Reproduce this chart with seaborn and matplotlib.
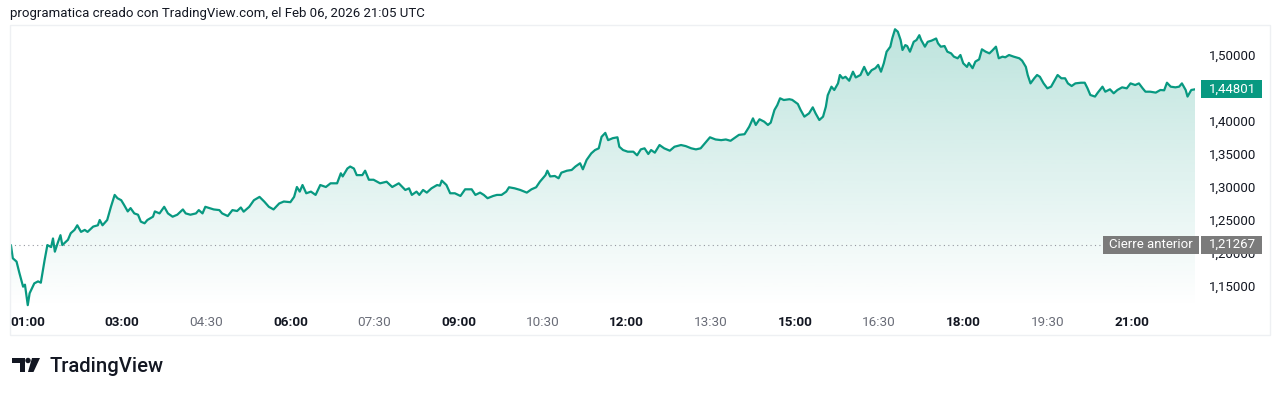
import numpy as np
import matplotlib.pyplot as plt
import matplotlib.patches as mpatches
import matplotlib.transforms as mtransforms
from matplotlib.colors import to_rgb
import seaborn as sns

# minutes since 00:00 (chart time) and price
minutes = [
    61, 63, 67, 70, 74, 76, 79, 81, 86, 90, 93, 97, 100, 104, 106, 108, 111, 114, 116, 122,
    125, 129, 132, 136, 140, 143, 149, 154, 156, 159, 164, 168, 172, 175, 179, 182, 186, 189, 193, 197,
    200, 204, 207, 213, 215, 220, 225, 229, 234, 239, 245, 248, 253, 259, 262, 266, 269,
    278, 284, 287, 293, 298, 303, 307, 310, 316, 321, 327, 332, 337, 342, 348, 353, 360, 364, 367, 370,
    373, 377, 382, 387, 392, 398, 403, 410, 414, 416, 421, 424, 428, 431, 437, 440, 444, 449, 456, 463,
    469, 476,
    483, 487, 490, 495, 498, 502, 506, 511, 517, 520, 522, 527, 531, 536, 542, 547, 554, 558, 563, 567,
    571, 577, 581, 586, 591, 594, 600, 606, 613, 618, 623, 627, 633, 635, 638, 643, 647, 650, 656, 661,
    665, 670, 673, 677, 682, 686, 690, 693, 697, 700,
    705, 710, 712, 716, 721, 727, 731, 735, 739, 743, 746, 750, 755, 760, 766, 771, 778, 783, 789, 794,
    799, 805, 809, 815, 821, 826, 831, 835, 840, 846, 851, 855, 858, 862, 867, 871, 874, 878, 881, 884,
    888, 894, 897, 903, 906, 910,
    915, 919, 922, 926, 930, 933, 935, 939, 942, 946, 948, 951, 954, 958, 962, 965, 970, 974, 978, 982,
    986, 989, 992, 995, 998, 1002, 1004, 1007, 1010, 1013, 1015, 1018, 1020, 1023, 1027, 1030, 1033,
    1035, 1039, 1042, 1046, 1051, 1053, 1056, 1060, 1063, 1067, 1070, 1074, 1077, 1080, 1084, 1086,
    1090, 1093, 1097, 1100, 1104, 1108, 1111, 1115, 1118, 1122, 1125, 1129,
    1134, 1140, 1143, 1147, 1149, 1152, 1156, 1159, 1162, 1166, 1170, 1174, 1177, 1181, 1185, 1189,
    1192, 1196, 1200, 1206, 1210, 1213, 1216, 1221, 1224, 1229, 1232, 1237, 1241, 1245, 1250, 1255,
    1259, 1264, 1268, 1272, 1275, 1280, 1286, 1291, 1295, 1298, 1302, 1307, 1311, 1314, 1318, 1320,
    1324, 1328,
]
price = [
    1.212, 1.192, 1.187, 1.170, 1.149, 1.152, 1.121, 1.139, 1.154, 1.157, 1.155, 1.189, 1.212, 1.209,
    1.222, 1.202, 1.215, 1.227, 1.212, 1.220,
    1.230, 1.235, 1.242, 1.232, 1.235, 1.232, 1.240, 1.242, 1.250, 1.242, 1.250, 1.270, 1.288, 1.283,
    1.280, 1.273, 1.263, 1.268, 1.260, 1.258,
    1.2475, 1.245, 1.250, 1.255, 1.263, 1.260, 1.270, 1.260, 1.255, 1.258, 1.266, 1.260, 1.258, 1.260,
    1.265, 1.260, 1.270,
    1.266, 1.265, 1.260, 1.256, 1.265, 1.2636, 1.269, 1.2626, 1.270, 1.280,
    1.285, 1.278, 1.270, 1.266, 1.275, 1.278, 1.277, 1.285, 1.300, 1.293,
    1.303, 1.2905, 1.293, 1.288, 1.303, 1.300, 1.3056, 1.3056, 1.3208, 1.316,
    1.328, 1.331, 1.328, 1.318, 1.318, 1.3247, 1.311, 1.311, 1.3056, 1.308,
    1.300, 1.3056,
    1.2955, 1.298, 1.288, 1.293, 1.288, 1.2955, 1.2915, 1.298, 1.303, 1.302,
    1.3097, 1.303, 1.2905, 1.2905, 1.2864, 1.2965, 1.2965, 1.288, 1.2915, 1.288,
    1.283, 1.2864, 1.288, 1.288, 1.293, 1.2996, 1.298, 1.2955, 1.2915, 1.2965,
    1.2996, 1.308, 1.318, 1.3247, 1.316, 1.3167, 1.3132, 1.3217, 1.3247, 1.3258,
    1.331, 1.336, 1.3268, 1.341, 1.351, 1.356, 1.3586, 1.376, 1.382, 1.371,
    1.374, 1.3753, 1.361, 1.356, 1.3535, 1.3535, 1.348, 1.357, 1.3586, 1.350,
    1.356, 1.352, 1.3636, 1.3586, 1.355, 1.361, 1.3636, 1.362, 1.3586, 1.357,
    1.3586, 1.3687, 1.3753, 1.372, 1.371, 1.372, 1.370, 1.374, 1.379, 1.380,
    1.3914, 1.404, 1.394, 1.4026, 1.399, 1.394, 1.3975, 1.4167, 1.424, 1.4344,
    1.4318, 1.433, 1.432, 1.4258, 1.4167, 1.4066,
    1.4116, 1.4207, 1.4116, 1.4015, 1.4066, 1.4217, 1.439, 1.452, 1.447, 1.457,
    1.4697, 1.4647, 1.467, 1.461, 1.4747, 1.466, 1.4697, 1.482, 1.4697, 1.477,
    1.480, 1.485, 1.4747, 1.4874, 1.505, 1.5126, 1.525, 1.539, 1.5353, 1.5227,
    1.5076, 1.515, 1.5136, 1.505, 1.520, 1.5227, 1.530, 1.5227, 1.5126, 1.520,
    1.5217, 1.525, 1.5177, 1.5126, 1.5136, 1.505, 1.5025, 1.4975, 1.495, 1.500,
    1.4874, 1.482, 1.488, 1.480, 1.490, 1.4934, 1.5086, 1.505, 1.5025, 1.5066,
    1.5126, 1.495, 1.4975, 1.4965, 1.500,
    1.4975, 1.495, 1.4914, 1.482, 1.4697, 1.457, 1.4647, 1.4697, 1.467, 1.457,
    1.4495, 1.452, 1.4596, 1.4697, 1.4647, 1.4647, 1.457, 1.453, 1.457, 1.458,
    1.458, 1.4495, 1.4394, 1.437, 1.443, 1.452, 1.4444, 1.448, 1.442, 1.447,
    1.451, 1.4495, 1.457, 1.4545, 1.457, 1.4495, 1.4444, 1.4444, 1.443, 1.447,
    1.4465, 1.458, 1.452, 1.451, 1.452, 1.457, 1.447, 1.437, 1.447, 1.44801,
]

prev_close = 1.21267
last_price = 1.44801
yticks = [1.15, 1.20, 1.25, 1.30, 1.35, 1.40, 1.45, 1.50]
xtick_labels = ['01:00', '03:00', '04:30', '06:00', '07:30', '09:00', '10:30',
                '12:00', '13:30', '15:00', '16:30', '18:00', '19:30', '21:00']
bold_labels = ['01:00', '03:00', '06:00', '09:00', '12:00', '15:00', '18:00', '21:00']
title = 'programatica creado con TradingView.com, el Feb 06, 2026 21:05 UTC'

LINE = '#089981'
DARK = '#131722'
GREY = '#6a6d78'

sns.set_style('white')
plt.rcParams['font.family'] = ['Roboto', 'DejaVu Sans']

W, H = 1280, 394
fig = plt.figure(figsize=(W / 100, H / 100), dpi=100)
px = mtransforms.Affine2D().scale(1 / W, -1 / H).translate(0, 1) + fig.transFigure

ax = fig.add_axes([10 / W, 1 - 308 / H, 1185 / W, 283 / H])
hours = np.array(minutes) / 60.0
ymin, ymax = 1.11667, 1.54545

sns.lineplot(x=hours, y=price, ax=ax, color=LINE, linewidth=1.6, zorder=4)

# gradient under the line
poly = ax.fill_between(hours, price, ymin, color='none')
grad = np.zeros((256, 1, 4))
grad[:, 0, :3] = to_rgb(LINE)
grad[:, 0, 3] = np.linspace(0.0, 0.27, 256)
im = ax.imshow(grad, extent=[1.0, hours[-1], ymin, ymax], origin='lower',
               aspect='auto', zorder=1)
im.set_clip_path(poly.get_paths()[0], transform=ax.transData)

ax.axhline(prev_close, color='#9598a1', lw=0.8, ls=(0, (1, 3)), zorder=2)

ax.set_xlim(1.0, hours[-1])
ax.set_ylim(ymin, ymax)
ax.set_xticks([])
ax.yaxis.tick_right()
ax.set_yticks(yticks)
ax.set_yticklabels([f'{v:.5f}'.replace('.', ',') for v in yticks])
ax.tick_params(axis='y', length=0, pad=10, labelsize=9.5, labelcolor=DARK)
for s in ax.spines.values():
    s.set_visible(False)
ax.set_xlabel('')
ax.set_ylabel('')

# time axis labels
xt = mtransforms.blended_transform_factory(ax.transData, ax.transAxes)
for lab in xtick_labels:
    h = int(lab[:2]) + int(lab[3:]) / 60
    bold = lab in bold_labels
    ax.text(h, -0.05, lab, transform=xt, ha='left' if h <= 1 else 'center', va='center',
            fontsize=9.7, fontweight='bold' if bold else 'normal',
            color=DARK if bold else GREY, clip_on=False)

# price badges
yt = mtransforms.blended_transform_factory(ax.transAxes, ax.transData)
unit = (ymax - ymin) / 283


def ax_x(p):
    return (p - 10) / 1185


def badge(x0, x1, yval, text, color, ha='left', tx=None):
    h = 18 * unit
    ax.add_patch(mpatches.Rectangle((ax_x(x0), yval - h / 2), ax_x(x1) - ax_x(x0), h,
                                    transform=yt, fc=color, ec='none', clip_on=False, zorder=5))
    ax.text(ax_x(tx if tx else x0), yval, text, transform=yt, ha=ha, va='center',
            fontsize=9.5, color='white', clip_on=False, zorder=6)


badge(1201, 1262, last_price, f'{last_price:.5f}'.replace('.', ','), LINE, tx=1209)
badge(1103, 1199, prev_close, 'Cierre anterior', '#7b7b7b', ha='center', tx=1151)
badge(1200.5, 1262, prev_close, f'{prev_close:.5f}'.replace('.', ','), '#7b7b7b', tx=1209)

# chart frame
fig.add_artist(mpatches.Rectangle((10, 25), 1260, 310, transform=px, fill=False,
                                  ec='#eef0f3', lw=1))

fig.text(10, 14, title, transform=px, ha='left', va='center', fontsize=9.5, color=DARK)

# TradingView logo
fig.add_artist(mpatches.Polygon([(12, 358), (25, 358), (25, 372), (20, 372), (20, 363), (12, 363)],
                                closed=True, transform=px, fc=DARK, ec='none'))
fig.add_artist(mpatches.Ellipse((28, 360.5), 5.4, 5.4, transform=px, fc=DARK, ec='none'))
fig.add_artist(mpatches.Polygon([(32, 358), (40, 358), (33.5, 372), (28, 372)],
                                closed=True, transform=px, fc=DARK, ec='none'))
fig.text(50, 372, 'TradingView', transform=px, ha='left', va='baseline', fontsize=14.6,
         fontweight='medium', color=DARK)

fig.savefig('out.png', dpi=100, facecolor='white')
